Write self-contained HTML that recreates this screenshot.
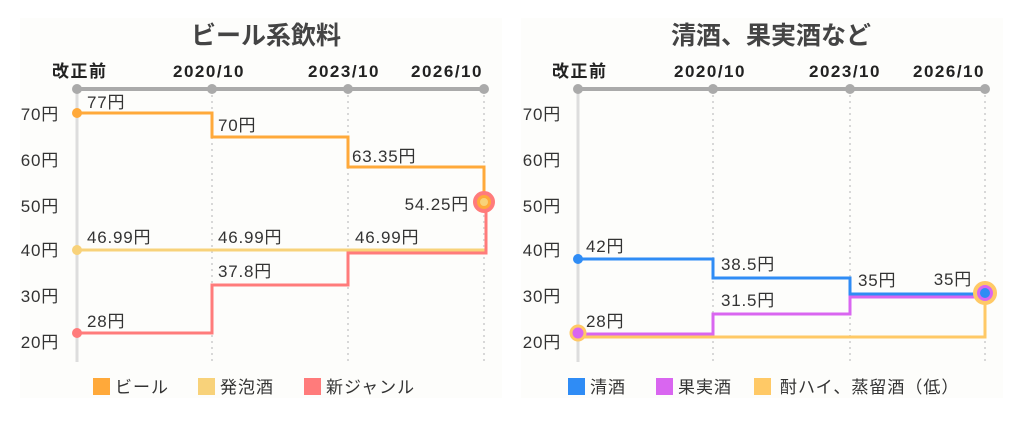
<!DOCTYPE html><html><head><meta charset="utf-8"><style>
body{margin:0;background:#fff}
svg{display:block;font-family:"Liberation Sans","Noto Sans CJK JP",sans-serif}
.t{font-size:17px;fill:#333;letter-spacing:0.8px}
.h{font-size:17px;font-weight:bold;fill:#222;letter-spacing:1.5px}
.ti{font-size:25px;font-weight:bold;fill:#444}
.l{font-size:17px;fill:#333;letter-spacing:1px}
</style></head><body>
<svg width="1024" height="440" viewBox="0 0 1024 440">
<rect x="20" y="18" width="482" height="380" fill="#fdfdfb"/>
<rect x="521" y="18" width="482" height="380" fill="#fdfdfb"/>
<g class="ti"><text x="266" y="44" text-anchor="middle">ビール系飲料</text><text x="771" y="44" text-anchor="middle">清酒、果実酒など</text></g>
<g class="h">
<text x="52" y="77">改正前</text><text x="173" y="77">2020/10</text><text x="308" y="77">2023/10</text><text x="411" y="77">2026/10</text>
<text x="552" y="77">改正前</text><text x="674" y="77">2020/10</text><text x="809" y="77">2023/10</text><text x="913" y="77">2026/10</text></g>
<g stroke="#d8d8d8" stroke-width="2" stroke-dasharray="2,4"><path d="M212 95V362M348 95V362M484 95V362M713 95V362M850 95V362M985 95V362"/></g>
<g stroke="#ddd" stroke-width="3"><path d="M77 89V362M578 89V362"/></g>
<g stroke="#aaa" stroke-width="4"><path d="M77 89H484M578 89H985"/></g>
<g fill="#aaa"><circle cx="77" cy="89" r="5"/><circle cx="212" cy="89" r="5"/><circle cx="348" cy="89" r="5"/><circle cx="484" cy="89" r="5"/><circle cx="578" cy="89" r="5"/><circle cx="713" cy="89" r="5"/><circle cx="850" cy="89" r="5"/><circle cx="985" cy="89" r="5"/></g>
<g class="t" text-anchor="end">
<text x="59" y="120">70円</text><text x="59" y="166">60円</text><text x="59" y="212">50円</text><text x="59" y="256">40円</text><text x="59" y="302">30円</text><text x="59" y="348">20円</text>
<text x="561" y="120">70円</text><text x="561" y="166">60円</text><text x="561" y="212">50円</text><text x="561" y="256">40円</text><text x="561" y="302">30円</text><text x="561" y="348">20円</text></g>
<g fill="none" stroke-width="3">
<path d="M77 250H486V202" stroke="#f8d27a"/>
<path d="M77 333H212V285H348V253H486V202" stroke="#ff7b7b"/>
<path d="M77 113H212V137H348V167H484V202" stroke="#ffa93a"/>
<path d="M578 337H985V293" stroke="#ffc966"/>
<path d="M578 334H713V314H850V297H985" stroke="#d966f0"/>
<path d="M578 259H713V278H850V294H985" stroke="#2f8cf5"/>
</g>
<circle cx="77" cy="113" r="5" fill="#ffa93a"/><circle cx="77" cy="250" r="5" fill="#f8d27a"/><circle cx="77" cy="333" r="5" fill="#ff7b7b"/>
<circle cx="484" cy="202" r="9" fill="#ffa93a" stroke="#ff7b7b" stroke-width="4"/><circle cx="484" cy="202" r="4" fill="#f8d27a"/>
<circle cx="578" cy="259" r="5" fill="#2f8cf5"/><circle cx="578" cy="333" r="7" fill="#d966f0" stroke="#ffc966" stroke-width="3"/>
<circle cx="985" cy="293" r="10" fill="#d966f0" stroke="#ffc966" stroke-width="4"/><circle cx="985" cy="293" r="5" fill="#2f8cf5"/>
<g class="t">
<text x="87" y="108">77円</text><text x="218" y="131">70円</text><text x="352" y="162">63.35円</text><text x="469" y="210" text-anchor="end">54.25円</text>
<text x="87" y="243">46.99円</text><text x="218" y="243">46.99円</text><text x="355" y="243">46.99円</text>
<text x="218" y="277">37.8円</text><text x="87" y="327">28円</text>
<text x="586" y="252">42円</text><text x="721" y="270">38.5円</text><text x="858" y="286">35円</text><text x="972" y="285" text-anchor="end">35円</text>
<text x="721" y="306">31.5円</text><text x="586" y="327">28円</text></g>
<rect x="93" y="378" width="17" height="17" fill="#ffa93a"/><rect x="198" y="378" width="17" height="17" fill="#f8d27a"/><rect x="304" y="378" width="17" height="17" fill="#ff7b7b"/>
<rect x="568" y="378" width="17" height="17" fill="#2f8cf5"/><rect x="656" y="378" width="17" height="17" fill="#d966f0"/><rect x="754" y="378" width="17" height="17" fill="#ffc966"/>
<g class="l">
<text x="115" y="393">ビール</text><text x="220" y="393">発泡酒</text><text x="326" y="393">新ジャンル</text>
<text x="590" y="393">清酒</text><text x="678" y="393">果実酒</text><text x="780" y="393">酎ハイ、蒸留酒（低）</text></g>
</svg></body></html>
